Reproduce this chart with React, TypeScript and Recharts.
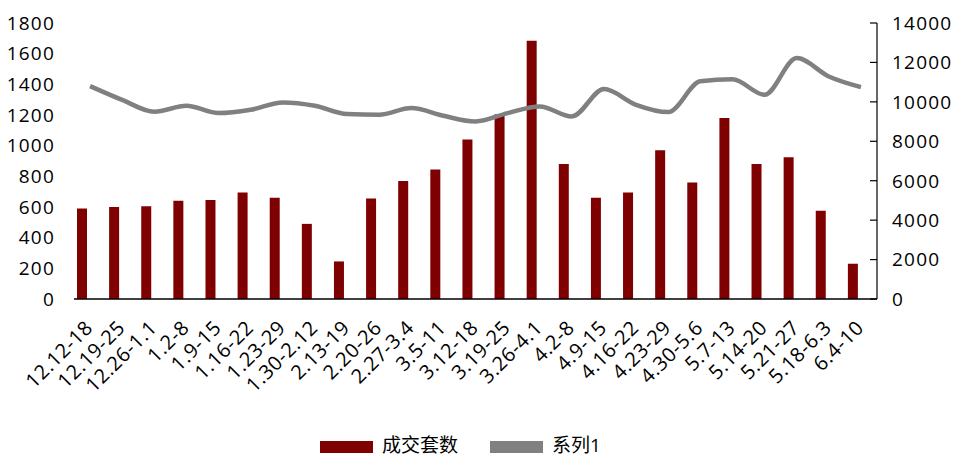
import React from 'react';
import { ComposedChart, Bar, Line, XAxis, YAxis, Legend } from 'recharts';

const weeks = [
  '12.12-18', '12.19-25', '12.26-1.1', '1.2-8', '1.9-15', '1.16-22', '1.23-29',
  '1.30-2.12', '2.13-19', '2.20-26', '2.27-3.4', '3.5-11', '3.12-18', '3.19-25',
  '3.26-4.1', '4.2-8', '4.9-15', '4.16-22', '4.23-29', '4.30-5.6', '5.7-13',
  '5.14-20', '5.21-27', '5.18-6.3', '6.4-10',
];

const deals = [
  590, 600, 605, 640, 645, 695, 660, 490, 245, 655, 770, 845, 1040, 1205,
  1685, 880, 660, 695, 970, 760, 1180, 880, 925, 575, 230,
];

const series1 = [
  10800, 10100, 9500, 9800, 9430, 9600, 9970, 9800, 9380, 9345, 9685, 9295,
  9005, 9430, 9770, 9260, 10650, 9850, 9480, 11040, 11150, 10360, 12220,
  11290, 10750,
];

const leftTicks = [0, 200, 400, 600, 800, 1000, 1200, 1400, 1600, 1800];
const rightTicks = [0, 2000, 4000, 6000, 8000, 10000, 12000, 14000];

const data = weeks.map((w, i) => ({ week: w, deals: deals[i], s1: series1[i] }));

const FONT = '"Open Sans", "Noto Sans CJK SC", sans-serif';
const BAR_COLOR = '#7f0000';
const LINE_COLOR = '#808080';

const XTick = (props: any) => {
  const { x, y, payload } = props;
  return (
    <text
      transform={`translate(${x + 4},${y + 22}) rotate(-45)`}
      textAnchor="end"
      fontSize={20}
      letterSpacing={0.6}
      fontFamily={FONT}
      fill="#000"
    >
      {payload.value}
    </text>
  );
};

const RightTick = (props: any) => {
  const { x, y, payload } = props;
  const axisX = x - 15;
  return (
    <g>
      <line x1={axisX - 7} x2={axisX} y1={y} y2={y} stroke="#000" strokeWidth={1.2} />
      <text x={x} y={y} dy="0.36em" textAnchor="start" fontSize={19} letterSpacing={1.2} fontFamily={FONT} fill="#000">
        {payload.value}
      </text>
    </g>
  );
};

const LegendBox = () => (
  <div style={{ position: 'relative', height: 30, fontFamily: FONT, fontSize: 19 }}>
    <div style={{ position: 'absolute', left: 320, top: 12, width: 53, height: 12, background: BAR_COLOR }} />
    <div style={{ position: 'absolute', left: 382, top: 6, lineHeight: '20px', color: '#000' }}>成交套数</div>
    <div style={{ position: 'absolute', left: 490, top: 12, width: 53, height: 12, background: LINE_COLOR }} />
    <div style={{ position: 'absolute', left: 552, top: 6, lineHeight: '20px', color: '#000' }}>系列1</div>
  </div>
);

export default function App() {
  return (
    <div style={{ position: 'absolute', left: 0, top: 0, background: '#fff' }}>
      <ComposedChart
        width={957}
        height={459}
        data={data}
        margin={{ top: 23, right: 0, bottom: 0, left: 0 }}
        barSize={10}
        barGap={6}
      >
        <XAxis
          dataKey="week"
          interval={0}
          tickLine={false}
          axisLine={{ stroke: '#000', strokeWidth: 1.5 }}
          height={130}
          tick={<XTick />}
        />
        <YAxis
          yAxisId="left"
          orientation="left"
          width={74}
          domain={[0, 1800]}
          ticks={leftTicks}
          axisLine={false}
          tickLine={false}
          tickMargin={13}
          tick={{ fontSize: 19, fill: '#000', fontFamily: FONT, letterSpacing: 1.2 }}
        />
        <YAxis
          yAxisId="right"
          orientation="right"
          width={80}
          domain={[0, 14000]}
          ticks={rightTicks}
          axisLine={{ stroke: '#000', strokeWidth: 1.2 }}
          tickLine={false}
          tickSize={0}
          tickMargin={15}
          tick={<RightTick />}
        />
        <Legend verticalAlign="bottom" height={30} wrapperStyle={{ left: 0, width: 957 }} content={<LegendBox />} />
        <Bar yAxisId="left" dataKey="deals" name="成交套数" fill={BAR_COLOR} isAnimationActive={false} />
        <Bar yAxisId="left" dataKey="spacer" legendType="none" fill="none" isAnimationActive={false} />
        <Line
          yAxisId="right"
          type="monotone"
          dataKey="s1"
          name="系列1"
          stroke={LINE_COLOR}
          strokeWidth={4.5}
          dot={false}
          activeDot={false}
          isAnimationActive={false}
        />
      </ComposedChart>
    </div>
  );
}
